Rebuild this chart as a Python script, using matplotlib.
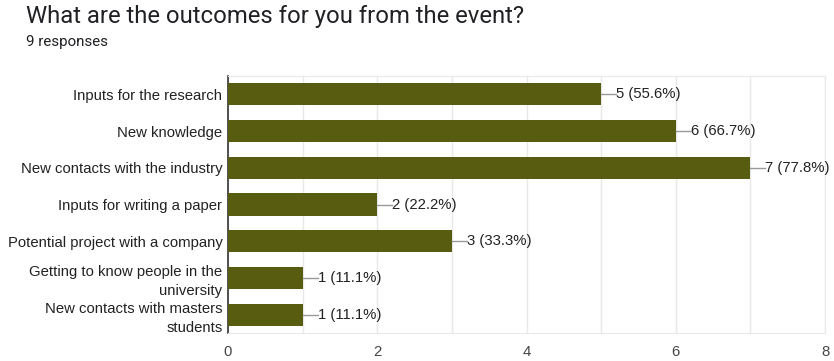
import matplotlib
matplotlib.use("Agg")
import matplotlib.pyplot as plt
from matplotlib.ticker import MultipleLocator

categories = ["Inputs for the research", "New knowledge", "New contacts with the industry",
              "Inputs for writing a paper", "Potential project with a company",
              "Getting to know people in the\nuniversity", "New contacts with masters\nstudents"]
counts = [5, 6, 7, 2, 3, 1, 1]
percents = [55.6, 66.7, 77.8, 22.2, 33.3, 11.1, 11.1]
title = "What are the outcomes for you from the event?"
subtitle = "9 responses"

fig = plt.figure(figsize=(8.34, 3.61), dpi=100)
ax = fig.add_axes([228/834, 1-333/361, (825-228)/834, (333-76)/361])

color = "#585c10"
y = list(range(len(categories)))
ax.barh(y, counts, height=0.6, color=color, zorder=3)
ax.set_ylim(len(categories)-0.5, -0.5)
ax.set_xlim(0, 8)
ax.set_yticks(y)
ax.set_yticklabels(categories, family="Liberation Sans", fontsize=10.7, color="#222222",
                   linespacing=1.45)
ax.xaxis.set_major_locator(MultipleLocator(2))
ax.xaxis.set_minor_locator(MultipleLocator(1))
ax.grid(axis="x", which="both", color="#e8e8e8", lw=1, zorder=0)
ax.tick_params(axis="both", length=0, which="both")
ax.tick_params(axis="x", labelsize=10.7, labelcolor="#444444", pad=9)
for lab in ax.get_xticklabels():
    lab.set_family("Liberation Sans")
ax.tick_params(axis="y", pad=4)
for s in ["top", "right", "bottom"]:
    ax.spines[s].set_color("#e8e8e8")
ax.spines["left"].set_color("#333333")
ax.spines["left"].set_linewidth(1.2)

for yi, c, p in zip(y, counts, percents):
    ax.plot([c, c+0.2], [yi, yi], color="#999999", lw=1, zorder=4, clip_on=False)
    ax.text(c+0.2, yi, f"{c} ({p}%)", va="center", ha="left", fontsize=10.7,
            family="Liberation Sans", color="#222222")

fig.text(26/834, 1-17/361, title, fontsize=17.2, family="Roboto", va="center", ha="left",
         color="#202124")
fig.text(26/834, 1-42/361, subtitle, fontsize=10.9, family="Roboto", va="center", ha="left",
         color="#202124")

fig.savefig("out.png", dpi=100)
